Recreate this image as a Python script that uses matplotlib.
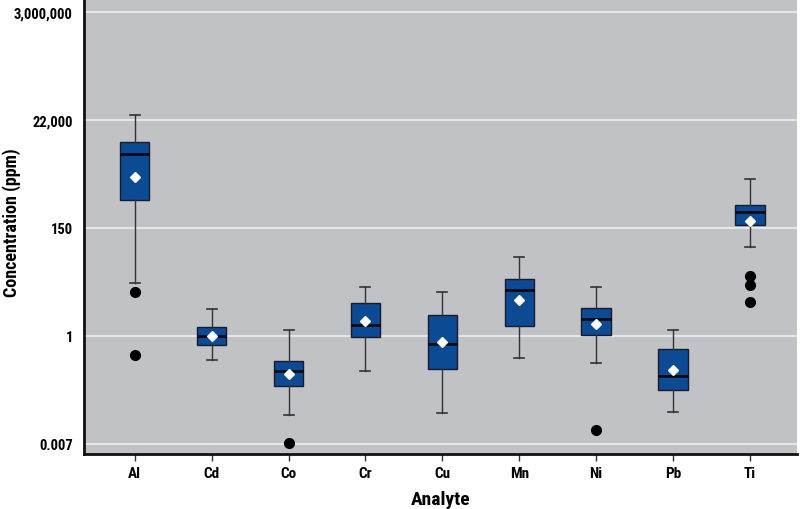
import numpy as np
import matplotlib
matplotlib.use("Agg")
import matplotlib.pyplot as plt

plt.rcParams['font.family'] = ['Roboto Condensed', 'Liberation Sans Narrow', 'DejaVu Sans']
plt.rcParams['font.stretch'] = 'condensed'

analytes = ["Al", "Cd", "Co", "Cr", "Cu", "Mn", "Ni", "Pb", "Ti"]
whislo = [11.4, 0.33, 0.0255, 0.198, 0.0276, 0.35, 0.28, 0.0287, 61]
q1 = [534, 0.65, 0.096, 0.93, 0.21, 1.55, 1.05, 0.081, 166]
med = [4491, 0.97, 0.196, 1.67, 0.69, 8.17, 2.16, 0.153, 308]
mean = [1525, 1.0, 0.167, 1.97, 0.73, 5.31, 1.72, 0.20, 202]
q3 = [7942, 1.49, 0.304, 4.53, 2.61, 13.9, 3.67, 0.55, 429]
whishi = [26903, 3.49, 1.30, 9.68, 7.54, 38.9, 9.68, 1.32, 1394]
fliers = [[7.7, 0.41], [], [0.0069], [], [], [], [0.0125], [], [16.1, 10.3, 4.76]]

tick_vals = [np.exp(-5), 1.0, np.exp(5), np.exp(10), np.exp(15)]
tick_labels = ["0.007", "1", "150", "22,000", "3,000,000"]

stats = []
for i, name in enumerate(analytes):
    stats.append(dict(label=name, whislo=whislo[i], q1=q1[i], med=med[i], mean=mean[i],
                      q3=q3[i], whishi=whishi[i], fliers=fliers[i]))

fig = plt.figure(figsize=(8, 5.1), dpi=100)
ax = fig.add_axes([0.105, 0.108, 0.891, 0.892])
ax.set_facecolor('#c0c2c5')

ax.bxp(stats, positions=range(1, 10), widths=0.38, patch_artist=True, showmeans=True,
       boxprops=dict(facecolor='#0d4a94', edgecolor='#1a1a2a', linewidth=1.0),
       medianprops=dict(color='#0a0a14', linewidth=2.0),
       whiskerprops=dict(color='#333333', linewidth=1.0),
       capprops=dict(color='#333333', linewidth=1.2),
       capwidths=0.13,
       meanprops=dict(marker='D', markerfacecolor='white', markeredgecolor='#f4f4f4', markersize=5.5),
       flierprops=dict(marker='o', markerfacecolor='black', markeredgecolor='black', markersize=7),
       zorder=3)

ax.set_yscale('log')
ax.set_ylim(np.exp(-5.48), np.exp(15.59))
ax.set_xlim(0.34, 9.61)
ax.set_yticks(tick_vals)
ax.set_yticklabels(tick_labels)
ax.minorticks_off()
ax.yaxis.grid(True, color='#e6e6e6', linewidth=1.5, zorder=0)
ax.set_axisbelow(True)

for s in ['top', 'right']:
    ax.spines[s].set_visible(False)
for s in ['left', 'bottom']:
    ax.spines[s].set_linewidth(2.0)
    ax.spines[s].set_color('#111111')

ax.tick_params(axis='y', length=0, pad=8, labelsize=10.5)
ax.tick_params(axis='x', length=5, width=1, color='#333333', labelsize=11, pad=4)
for lab in ax.get_yticklabels() + ax.get_xticklabels():
    lab.set_fontweight('bold')

ax.set_xlabel("Analyte", fontsize=14, fontweight='bold', va='center')
ax.xaxis.set_label_coords(0.5, -0.099)
ax.set_ylabel("Concentration (ppm)", fontsize=13, fontweight='bold', va='center')
ax.yaxis.set_label_coords(-0.102, 0.51)

fig.savefig("out.png", dpi=100)
